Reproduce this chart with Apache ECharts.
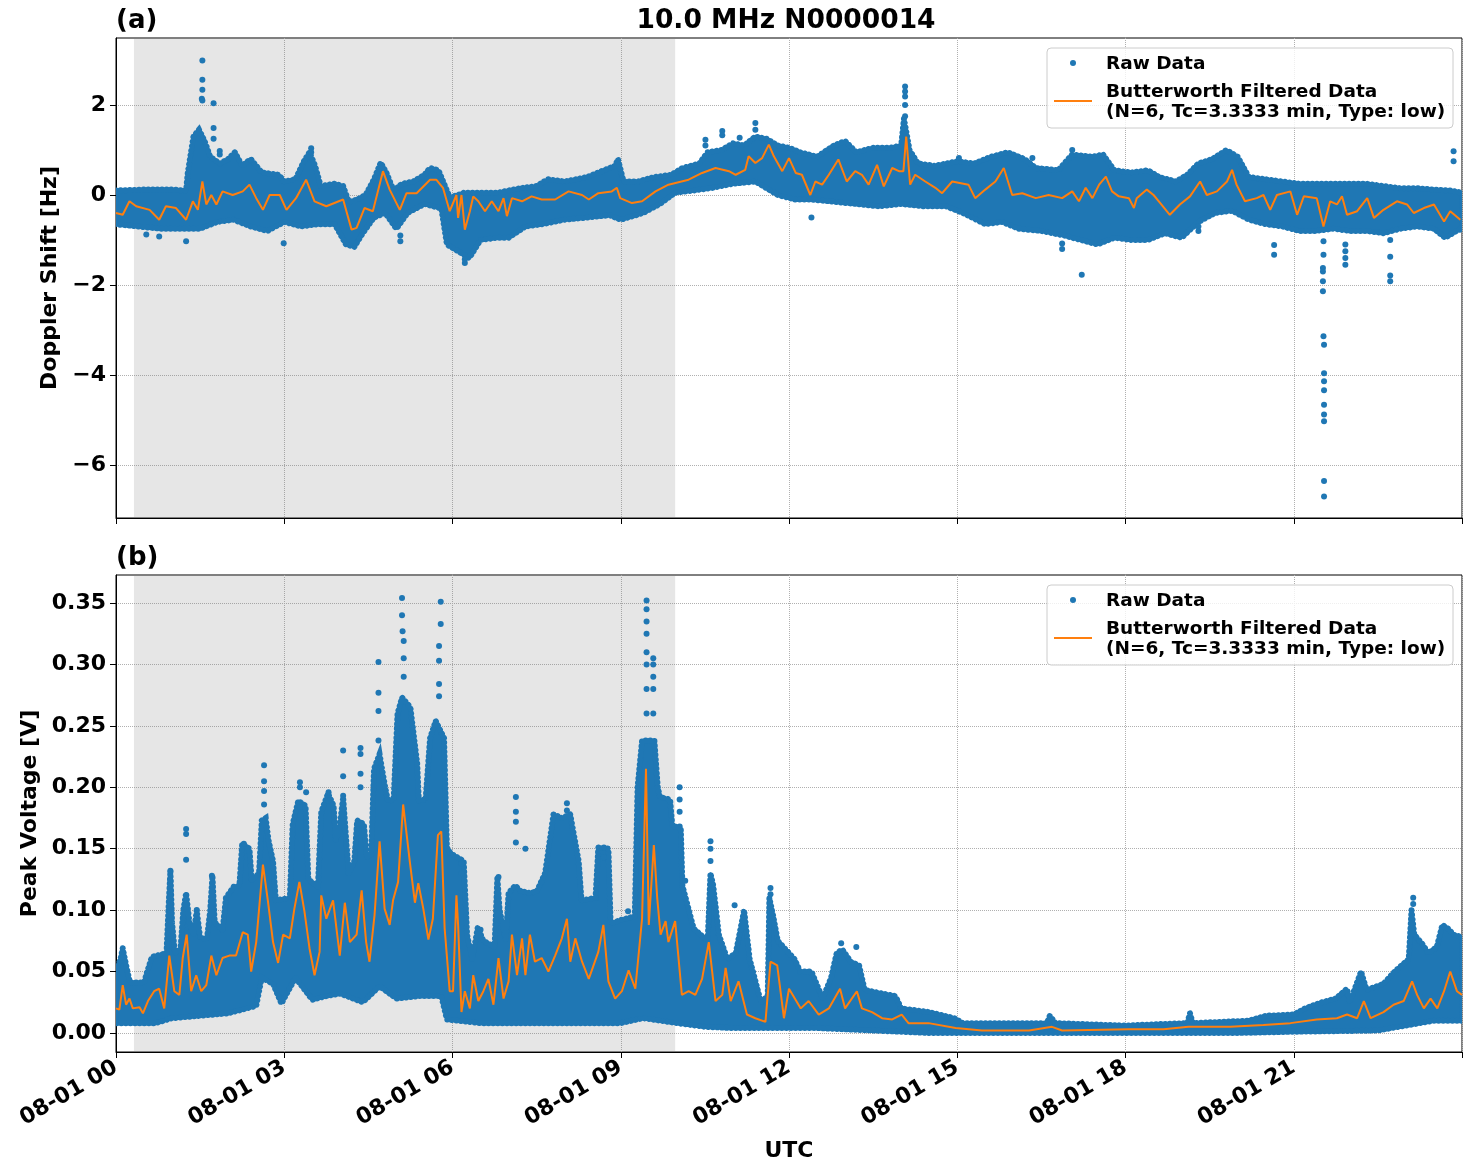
<!DOCTYPE html>
<html>
<head>
<meta charset="utf-8">
<title>10.0 MHz N0000014</title>
<script src="https://cdn.jsdelivr.net/npm/echarts@6/dist/echarts.min.js"></script>
<style>
  html, body { margin: 0; padding: 0; background: #fff; }
  #chart { width: 1472px; height: 1172px; }
</style>
</head>
<body>
<div id="chart"></div>
<script>
// tick positions (hours since 08-01 00 UTC)
const hourTicks = [0, 3, 6, 9, 12, 15, 18, 21]
const dopplerTicks = [2, 0, -2, -4, -6]
const voltageTicks = [0, 0.05, 0.1, 0.15, 0.2, 0.25, 0.3, 0.35]

// night shading
const shadeStart = 0.32
const shadeEnd = 9.97

// (a) raw doppler cloud: upper / lower edge [hour, Hz]
const dopplerUpper = [
  [0.0, 0.1], [0.5, 0.12], [1.0, 0.12], [1.25, 0.1], [1.28, 0.5], [1.38, 1.3], [1.48, 1.45], [1.58, 1.2],
  [1.68, 0.85], [1.85, 0.7], [2.0, 0.8], [2.12, 0.95], [2.25, 0.65], [2.4, 0.8], [2.6, 0.5], [2.9, 0.45],
  [3.0, 0.3], [3.2, 0.35], [3.35, 0.75], [3.45, 0.95], [3.55, 0.65], [3.65, 0.2], [3.9, 0.25], [4.05, 0.2],
  [4.15, -0.15], [4.3, -0.1], [4.45, 0.0], [4.6, 0.35], [4.72, 0.72], [4.82, 0.5], [4.95, 0.1], [5.1, 0.25],
  [5.3, 0.3], [5.5, 0.45], [5.6, 0.6], [5.75, 0.55], [5.85, 0.25], [5.95, -0.05], [6.1, 0.0], [6.2, 0.05],
  [6.4, 0.05], [6.6, 0.05], [6.8, 0.05], [7.0, 0.1], [7.2, 0.15], [7.5, 0.2], [7.7, 0.35], [8.0, 0.3],
  [8.2, 0.35], [8.4, 0.4], [8.6, 0.5], [8.9, 0.65], [8.95, 0.8], [9.05, 0.3], [9.3, 0.3], [9.6, 0.4],
  [9.9, 0.45], [10.1, 0.6], [10.4, 0.7], [10.55, 0.95], [10.8, 1.0], [11.0, 1.15], [11.2, 1.1], [11.4, 1.3],
  [11.6, 1.25], [11.8, 1.1], [12.0, 1.05], [12.2, 0.95], [12.5, 0.85], [12.8, 1.1], [13.0, 1.2], [13.2, 0.95],
  [13.5, 1.05], [13.8, 1.05], [14.0, 1.1], [14.05, 1.7], [14.15, 1.0], [14.3, 0.7], [14.6, 0.65], [15.0, 0.75],
  [15.3, 0.7], [15.6, 0.85], [15.9, 0.95], [16.2, 0.8], [16.4, 0.6], [16.8, 0.55], [17.05, 0.9], [17.4, 0.85],
  [17.6, 0.9], [17.8, 0.55], [18.1, 0.5], [18.4, 0.55], [18.6, 0.4], [18.9, 0.3], [19.1, 0.45], [19.3, 0.7],
  [19.55, 0.8], [19.8, 1.0], [20.0, 0.85], [20.2, 0.4], [20.5, 0.35], [20.8, 0.3], [21.1, 0.25], [21.4, 0.25],
  [21.7, 0.25], [22.0, 0.25], [22.3, 0.25], [22.6, 0.2], [22.9, 0.15], [23.2, 0.15], [23.5, 0.12], [23.8, 0.1],
  [24.0, 0.05]
]
const dopplerLower = [
  [0.0, -0.65], [0.4, -0.7], [0.8, -0.75], [1.2, -0.75], [1.5, -0.75], [1.8, -0.6], [2.1, -0.55], [2.4, -0.7],
  [2.7, -0.8], [3.0, -0.6], [3.3, -0.7], [3.6, -0.65], [3.9, -0.65], [4.1, -1.1], [4.25, -1.15], [4.4, -0.85],
  [4.6, -0.5], [4.8, -0.4], [5.0, -0.75], [5.2, -0.4], [5.5, -0.2], [5.8, -0.3], [5.9, -1.1], [6.1, -1.25],
  [6.3, -1.4], [6.5, -1.0], [6.8, -0.95], [7.0, -0.95], [7.3, -0.7], [7.6, -0.65], [8.0, -0.55], [8.4, -0.5],
  [8.8, -0.45], [9.0, -0.55], [9.4, -0.4], [9.7, -0.2], [9.97, 0.05], [10.3, 0.1], [10.6, 0.15], [11.0, 0.25],
  [11.4, 0.3], [11.8, 0.0], [12.1, -0.1], [12.4, -0.1], [12.8, -0.15], [13.2, -0.2], [13.6, -0.25], [14.0, -0.2],
  [14.4, -0.25], [14.8, -0.25], [15.1, -0.4], [15.5, -0.65], [15.8, -0.6], [16.1, -0.75], [16.5, -0.8], [16.9, -0.9],
  [17.2, -1.0], [17.5, -1.1], [17.8, -0.95], [18.1, -1.0], [18.4, -1.0], [18.7, -0.85], [19.0, -0.95], [19.3, -0.6],
  [19.6, -0.4], [19.9, -0.35], [20.2, -0.55], [20.5, -0.65], [20.8, -0.7], [21.1, -0.8], [21.4, -0.8], [21.7, -0.75],
  [22.0, -0.8], [22.3, -0.8], [22.6, -0.85], [22.9, -0.75], [23.2, -0.7], [23.5, -0.75], [23.7, -0.95], [23.9, -0.8],
  [24.0, -0.75]
]
// (a) isolated raw points
const dopplerOutliers = [
  [1.54, 2.99], [1.54, 2.56], [1.54, 2.34], [1.53, 2.14], [1.54, 2.1], [1.74, 2.04], [1.74, 1.49], [1.74, 1.25],
  [1.85, 0.98], [1.85, 0.9], [1.25, -1.03], [0.54, -0.88], [0.77, -0.92], [2.99, -1.07], [3.48, 1.04], [3.48, 0.95],
  [2.41, 0.78], [5.07, -1.03], [5.07, -0.9], [6.22, -1.51], [6.22, -1.43], [10.51, 1.23], [10.51, 1.1], [10.81, 1.42],
  [10.81, 1.33], [11.12, 1.27], [11.4, 1.6], [11.4, 1.45], [14.07, 2.41], [14.07, 2.3], [14.07, 2.19], [14.07, 2.0],
  [14.07, 1.75], [17.22, -1.77], [16.87, -1.2], [16.87, -1.08], [12.4, -0.5], [15.03, 0.82], [16.34, 0.82], [17.05, 1.0],
  [23.85, 0.97], [23.85, 0.75], [20.65, -1.11], [20.65, -1.33], [19.3, -0.7], [19.3, -0.8],
  [21.53, -1.03], [21.53, -1.33], [21.52, -1.62], [21.52, -1.7], [21.52, -1.92], [21.52, -2.14], [21.53, -3.14], [21.54, -3.33],
  [21.54, -3.96], [21.54, -4.14], [21.54, -4.34], [21.54, -4.66], [21.54, -4.88], [21.54, -5.03], [21.54, -6.36], [21.54, -6.7],
  [21.92, -1.1], [21.92, -1.25], [21.92, -1.4], [21.92, -1.55], [22.72, -1.0], [22.72, -1.37], [22.72, -1.79], [22.72, -1.92]
]
// (a) butterworth filtered doppler
const dopplerFiltered = [
  [0.0, -0.4], [0.12, -0.44], [0.24, -0.14], [0.36, -0.25], [0.6, -0.33], [0.77, -0.55], [0.89, -0.25], [1.07, -0.29],
  [1.25, -0.55], [1.37, -0.14], [1.46, -0.33], [1.54, 0.3], [1.61, -0.21], [1.7, 0.0], [1.79, -0.21], [1.9, 0.08],
  [2.08, 0.0], [2.26, 0.08], [2.38, 0.23], [2.5, -0.07], [2.62, -0.33], [2.74, 0.0], [2.92, 0.0], [3.04, -0.33],
  [3.21, -0.07], [3.39, 0.34], [3.54, -0.14], [3.75, -0.25], [4.05, -0.1], [4.2, -0.77], [4.29, -0.73], [4.43, -0.29],
  [4.58, -0.36], [4.76, 0.53], [4.88, 0.12], [5.06, -0.33], [5.18, 0.04], [5.36, 0.04], [5.6, 0.34], [5.71, 0.34],
  [5.83, 0.16], [5.95, -0.36], [6.07, 0.0], [6.1, -0.51], [6.16, 0.0], [6.22, -0.77], [6.31, -0.36], [6.37, -0.03],
  [6.46, -0.14], [6.58, -0.36], [6.7, -0.14], [6.82, -0.36], [6.91, -0.07], [6.97, -0.47], [7.06, -0.07], [7.24, -0.14],
  [7.41, -0.03], [7.59, -0.1], [7.83, -0.1], [8.07, 0.08], [8.31, 0.0], [8.43, -0.1], [8.6, 0.04], [8.84, 0.08],
  [8.93, 0.16], [8.99, -0.07], [9.2, -0.18], [9.38, -0.14], [9.62, 0.08], [9.85, 0.23], [10.21, 0.34], [10.45, 0.49],
  [10.69, 0.6], [10.93, 0.53], [11.05, 0.45], [11.22, 0.56], [11.28, 0.86], [11.4, 0.71], [11.52, 0.82], [11.64, 1.12],
  [11.73, 0.86], [11.88, 0.53], [12.0, 0.82], [12.12, 0.49], [12.23, 0.45], [12.38, 0.0], [12.47, 0.3], [12.59, 0.23],
  [12.71, 0.45], [12.88, 0.79], [13.03, 0.3], [13.18, 0.53], [13.3, 0.45], [13.42, 0.23], [13.57, 0.67], [13.69, 0.19],
  [13.84, 0.6], [13.96, 0.53], [14.04, 0.53], [14.09, 1.3], [14.16, 0.23], [14.25, 0.45], [14.43, 0.3], [14.61, 0.16],
  [14.73, 0.04], [14.91, 0.3], [15.2, 0.23], [15.32, -0.07], [15.5, 0.12], [15.68, 0.3], [15.83, 0.6], [15.98, 0.0],
  [16.16, 0.04], [16.4, -0.07], [16.63, 0.0], [16.87, -0.07], [17.05, 0.08], [17.17, -0.14], [17.29, 0.16], [17.41, -0.07],
  [17.53, 0.23], [17.65, 0.41], [17.76, 0.08], [17.88, -0.03], [18.06, -0.07], [18.15, -0.29], [18.2, -0.07], [18.38, 0.12],
  [18.5, 0.0], [18.62, -0.18], [18.79, -0.44], [18.97, -0.21], [19.15, -0.03], [19.33, 0.3], [19.45, 0.0], [19.63, 0.08],
  [19.81, 0.3], [19.9, 0.56], [19.98, 0.23], [20.13, -0.14], [20.34, -0.07], [20.46, 0.0], [20.58, -0.33], [20.7, 0.0],
  [20.94, 0.08], [21.06, -0.44], [21.18, -0.03], [21.41, -0.07], [21.53, -0.7], [21.65, -0.14], [21.77, -0.21], [21.86, -0.03],
  [21.95, -0.44], [22.13, -0.36], [22.31, -0.07], [22.43, -0.51], [22.6, -0.33], [22.84, -0.14], [23.02, -0.21], [23.14, -0.4],
  [23.32, -0.29], [23.5, -0.21], [23.68, -0.59], [23.79, -0.36], [23.97, -0.55]
]

// (b) raw peak voltage cloud: upper / lower edge [hour, V]
const voltageUpper = [
  [0.0, 0.051], [0.08, 0.06], [0.12, 0.069], [0.16, 0.06], [0.2, 0.051], [0.25, 0.041], [0.5, 0.041], [0.55, 0.049],
  [0.64, 0.062], [0.9, 0.065], [0.94, 0.105], [0.97, 0.132], [1.0, 0.09], [1.05, 0.065], [1.15, 0.068], [1.2, 0.1],
  [1.25, 0.114], [1.31, 0.09], [1.38, 0.08], [1.44, 0.1], [1.5, 0.078], [1.62, 0.076], [1.68, 0.1], [1.72, 0.128],
  [1.76, 0.09], [1.9, 0.084], [1.96, 0.11], [2.1, 0.119], [2.2, 0.12], [2.25, 0.154], [2.38, 0.15], [2.42, 0.124],
  [2.55, 0.13], [2.6, 0.173], [2.67, 0.175], [2.72, 0.157], [2.8, 0.14], [2.85, 0.108], [3.1, 0.11], [3.15, 0.17],
  [3.25, 0.189], [3.38, 0.185], [3.43, 0.125], [3.6, 0.119], [3.66, 0.18], [3.78, 0.195], [3.88, 0.185], [3.92, 0.157],
  [3.98, 0.165], [4.05, 0.192], [4.1, 0.16], [4.15, 0.13], [4.25, 0.14], [4.3, 0.173], [4.42, 0.17], [4.47, 0.143],
  [4.55, 0.145], [4.6, 0.215], [4.7, 0.227], [4.8, 0.2], [4.85, 0.189], [4.95, 0.19], [5.02, 0.26], [5.1, 0.273],
  [5.25, 0.265], [5.37, 0.22], [5.4, 0.189], [5.52, 0.19], [5.6, 0.24], [5.7, 0.254], [5.85, 0.24], [5.9, 0.151],
  [5.97, 0.146], [6.2, 0.14], [6.26, 0.08], [6.35, 0.06], [6.45, 0.086], [6.55, 0.075], [6.75, 0.07], [6.8, 0.127],
  [6.84, 0.1], [6.95, 0.076], [7.0, 0.114], [7.12, 0.12], [7.2, 0.116], [7.35, 0.114], [7.5, 0.115], [7.65, 0.13],
  [7.8, 0.178], [7.95, 0.175], [8.1, 0.178], [8.25, 0.14], [8.3, 0.108], [8.55, 0.11], [8.6, 0.151], [8.78, 0.15],
  [8.82, 0.089], [9.0, 0.092], [9.25, 0.095], [9.3, 0.2], [9.38, 0.238], [9.6, 0.238], [9.66, 0.2], [9.7, 0.192],
  [9.88, 0.19], [9.92, 0.168], [10.07, 0.168], [10.1, 0.12], [10.3, 0.085], [10.55, 0.075], [10.6, 0.13], [10.65, 0.12],
  [10.75, 0.08], [10.9, 0.06], [11.05, 0.065], [11.2, 0.1], [11.3, 0.06], [11.5, 0.025], [11.62, 0.03], [11.65, 0.11],
  [11.72, 0.095], [11.8, 0.075], [12.0, 0.065], [12.1, 0.06], [12.2, 0.05], [12.4, 0.05], [12.6, 0.028], [12.75, 0.045],
  [12.85, 0.065], [12.95, 0.068], [13.1, 0.058], [13.25, 0.055], [13.35, 0.035], [13.9, 0.03], [14.0, 0.02], [14.5, 0.017],
  [14.95, 0.012], [15.1, 0.008], [16.6, 0.008], [16.65, 0.014], [16.75, 0.008], [18.0, 0.006], [18.5, 0.007], [19.1, 0.008],
  [19.15, 0.016], [19.2, 0.008], [20.2, 0.01], [20.5, 0.014], [21.0, 0.015], [21.2, 0.02], [21.5, 0.025], [21.75, 0.028],
  [21.95, 0.036], [22.0, 0.025], [22.2, 0.05], [22.3, 0.035], [22.6, 0.04], [22.8, 0.05], [23.05, 0.06], [23.1, 0.1],
  [23.15, 0.08], [23.3, 0.072], [23.4, 0.065], [23.55, 0.07], [23.65, 0.088], [23.75, 0.085], [23.85, 0.08], [24.0, 0.078]
]
const voltageLower = [
  [0.0, 0.008], [0.7, 0.008], [1.0, 0.012], [2.0, 0.016], [2.5, 0.022], [2.6, 0.045], [2.8, 0.04], [2.95, 0.024],
  [3.2, 0.045], [3.5, 0.027], [3.75, 0.03], [4.0, 0.032], [4.4, 0.025], [4.7, 0.038], [5.0, 0.028], [5.4, 0.03],
  [5.8, 0.03], [5.9, 0.011], [6.5, 0.008], [8.0, 0.008], [9.0, 0.008], [9.4, 0.012], [10.0, 0.008], [10.5, 0.005],
  [11.0, 0.004], [11.6, 0.004], [12.0, 0.004], [12.5, 0.004], [13.5, 0.002], [14.5, 0.0], [20.0, 0.0], [21.0, 0.001],
  [22.5, 0.002], [23.0, 0.006], [23.5, 0.01], [24.0, 0.01]
]
// (b) isolated raw points
const voltageOutliers = [
  [0.97, 0.132], [0.97, 0.124], [0.97, 0.115], [1.25, 0.166], [1.25, 0.162], [1.25, 0.141], [1.44, 0.1], [1.71, 0.128],
  [2.28, 0.154], [2.64, 0.218], [2.64, 0.205], [2.64, 0.197], [2.64, 0.186], [3.28, 0.204], [3.28, 0.2], [3.28, 0.184],
  [3.39, 0.196], [3.79, 0.196], [3.79, 0.189], [4.05, 0.23], [4.05, 0.209], [4.05, 0.193], [4.36, 0.232], [4.36, 0.227],
  [4.36, 0.211], [4.36, 0.2], [4.68, 0.302], [4.68, 0.277], [4.68, 0.262], [4.68, 0.238], [5.1, 0.354], [5.1, 0.34],
  [5.11, 0.327], [5.13, 0.319], [5.13, 0.305], [5.13, 0.29], [5.79, 0.351], [5.79, 0.333], [5.76, 0.315], [5.76, 0.303],
  [5.76, 0.284], [5.76, 0.274], [6.16, 0.138], [6.16, 0.13], [6.5, 0.084], [6.82, 0.127], [7.13, 0.192], [7.13, 0.18],
  [7.13, 0.172], [7.13, 0.155], [7.3, 0.15], [8.04, 0.187], [8.04, 0.181], [8.7, 0.151], [8.7, 0.143], [9.13, 0.099],
  [9.46, 0.352], [9.46, 0.345], [9.46, 0.335], [9.46, 0.325], [9.46, 0.31], [9.46, 0.3], [9.46, 0.28], [9.46, 0.26],
  [9.58, 0.305], [9.58, 0.3], [9.58, 0.29], [9.58, 0.28], [9.58, 0.26], [10.05, 0.2], [10.05, 0.19], [10.05, 0.18],
  [10.15, 0.124], [10.6, 0.156], [10.6, 0.15], [10.6, 0.14], [11.03, 0.104], [11.67, 0.118], [11.67, 0.113],
  [12.93, 0.073], [13.2, 0.07], [23.13, 0.11], [23.13, 0.105]
]
// (b) butterworth filtered peak voltage
const voltageFiltered = [
  [0.0, 0.02], [0.06, 0.019], [0.12, 0.039], [0.18, 0.023], [0.24, 0.028], [0.3, 0.02], [0.42, 0.021], [0.48, 0.016],
  [0.57, 0.026], [0.68, 0.034], [0.77, 0.036], [0.86, 0.02], [0.95, 0.063], [1.04, 0.034], [1.13, 0.031], [1.19, 0.061],
  [1.26, 0.08], [1.34, 0.034], [1.43, 0.047], [1.52, 0.034], [1.61, 0.039], [1.7, 0.063], [1.79, 0.047], [1.9, 0.061],
  [2.02, 0.063], [2.14, 0.063], [2.26, 0.082], [2.35, 0.08], [2.41, 0.05], [2.5, 0.074], [2.62, 0.137], [2.71, 0.107],
  [2.8, 0.074], [2.89, 0.057], [2.98, 0.08], [3.1, 0.077], [3.18, 0.101], [3.27, 0.123], [3.36, 0.099], [3.45, 0.069],
  [3.54, 0.047], [3.63, 0.066], [3.66, 0.112], [3.75, 0.093], [3.87, 0.108], [3.99, 0.063], [4.08, 0.106], [4.17, 0.074],
  [4.29, 0.08], [4.38, 0.116], [4.46, 0.074], [4.52, 0.058], [4.61, 0.096], [4.7, 0.156], [4.79, 0.101], [4.88, 0.088],
  [4.94, 0.108], [5.03, 0.123], [5.12, 0.186], [5.24, 0.139], [5.33, 0.106], [5.39, 0.122], [5.48, 0.101], [5.57, 0.076],
  [5.65, 0.093], [5.74, 0.161], [5.8, 0.164], [5.86, 0.085], [5.95, 0.034], [6.01, 0.034], [6.07, 0.112], [6.1, 0.088],
  [6.16, 0.017], [6.22, 0.034], [6.31, 0.02], [6.37, 0.047], [6.46, 0.026], [6.55, 0.034], [6.64, 0.044], [6.73, 0.023],
  [6.82, 0.061], [6.91, 0.028], [7.0, 0.042], [7.06, 0.08], [7.15, 0.047], [7.24, 0.077], [7.3, 0.047], [7.38, 0.08],
  [7.47, 0.058], [7.59, 0.061], [7.71, 0.05], [7.83, 0.063], [7.95, 0.077], [8.04, 0.093], [8.1, 0.058], [8.19, 0.077],
  [8.31, 0.058], [8.43, 0.044], [8.6, 0.066], [8.69, 0.088], [8.78, 0.042], [8.9, 0.028], [9.02, 0.034], [9.14, 0.051],
  [9.26, 0.036], [9.38, 0.093], [9.45, 0.215], [9.5, 0.088], [9.59, 0.153], [9.65, 0.11], [9.71, 0.08], [9.8, 0.091],
  [9.85, 0.074], [9.97, 0.091], [10.09, 0.031], [10.21, 0.034], [10.33, 0.031], [10.45, 0.044], [10.57, 0.074], [10.69, 0.026],
  [10.81, 0.031], [10.87, 0.053], [10.96, 0.026], [11.1, 0.042], [11.25, 0.015], [11.4, 0.012], [11.58, 0.009], [11.67, 0.058],
  [11.79, 0.055], [11.91, 0.012], [12.0, 0.036], [12.21, 0.02], [12.35, 0.026], [12.53, 0.015], [12.71, 0.02], [12.91, 0.036],
  [13.0, 0.02], [13.21, 0.034], [13.3, 0.02], [13.48, 0.017], [13.66, 0.012], [13.84, 0.011], [14.01, 0.015], [14.13, 0.008],
  [14.49, 0.008], [14.97, 0.004], [15.44, 0.002], [16.28, 0.002], [16.69, 0.005], [16.87, 0.002], [18.06, 0.003], [18.68, 0.003],
  [19.12, 0.005], [19.87, 0.005], [20.46, 0.0065], [20.94, 0.008], [21.41, 0.011], [21.77, 0.012], [21.95, 0.015], [22.13, 0.012],
  [22.25, 0.026], [22.37, 0.012], [22.6, 0.017], [22.78, 0.023], [22.96, 0.026], [23.11, 0.042], [23.2, 0.031], [23.32, 0.02],
  [23.44, 0.028], [23.56, 0.02], [23.68, 0.034], [23.79, 0.05], [23.91, 0.034], [24.0, 0.031]
]

const FONT = 'DejaVu Sans'
const BLUE = '#1f77b4'
const ORANGE = '#ff7f0e'
const GRID_LINE = { color: '#b0b0b0', type: 'dotted', width: 1 }
const LABEL_NAME = 'Butterworth Filtered Data\n(N=6, Tc=3.3333 min, Type: low)'

const chart = echarts.init(document.getElementById('chart'), null, { renderer: 'canvas' })

// 原始数据点云：上下包络围成的多边形，边缘用圆点描边
const cloudSeries = (idx, upper, lower) => ({
  name: 'Raw Data',
  type: 'custom',
  xAxisIndex: idx,
  yAxisIndex: idx,
  z: 2,
  silent: true,
  clip: true,
  data: [upper[0]],
  renderItem: (params, api) => {
    const pts = upper.concat(lower.slice().reverse()).map((p) => api.coord(p))
    return {
      type: 'group',
      children: [
        {
          type: 'polygon',
          shape: { points: pts },
          style: { fill: BLUE, stroke: BLUE, lineWidth: 2, lineJoin: 'round' },
        },
        {
          type: 'polygon',
          shape: { points: pts },
          style: { fill: null, stroke: BLUE, lineWidth: 6, lineCap: 'round', lineDash: [0.1, 4.5] },
        },
      ],
    }
  },
})

const shadeSeries = (idx) => ({
  type: 'line',
  xAxisIndex: idx,
  yAxisIndex: idx,
  z: 1,
  silent: true,
  data: [[0, null]],
  showSymbol: false,
  lineStyle: { opacity: 0 },
  markArea: {
    silent: true,
    itemStyle: { color: 'rgba(128,128,128,0.2)' },
    data: [[{ xAxis: shadeStart }, { xAxis: shadeEnd }]],
  },
})

const outlierSeries = (idx, data) => ({
  name: 'Raw Data',
  type: 'scatter',
  xAxisIndex: idx,
  yAxisIndex: idx,
  z: 3,
  silent: true,
  symbolSize: 6,
  itemStyle: { color: BLUE, opacity: 1 },
  data,
})

const filteredSeries = (idx, data) => ({
  name: LABEL_NAME,
  type: 'line',
  xAxisIndex: idx,
  yAxisIndex: idx,
  z: 4,
  silent: true,
  showSymbol: false,
  lineStyle: { color: ORANGE, width: 2 },
  data,
})

const tickFont = { fontFamily: FONT, fontWeight: 'bold', fontSize: 22, color: '#000' }

const xAxisBase = (idx, showLabel) => ({
  type: 'value',
  gridIndex: idx,
  min: 0,
  max: 24,
  interval: 3,
  axisLine: { show: true, onZero: false, lineStyle: { color: '#000', width: 1 } },
  axisTick: { show: true, length: 6, lineStyle: { color: '#000' } },
  axisLabel: {
    show: showLabel,
    rotate: 30,
    margin: 14,
    ...tickFont,
    formatter: (v) => (hourTicks.includes(v) ? '08-01 ' + String(v).padStart(2, '0') : ''),
  },
  splitLine: { show: true, lineStyle: GRID_LINE },
})

const yAxisBase = (idx, min, max, ticks, name, gap, fmt) => ({
  type: 'value',
  gridIndex: idx,
  min,
  max,
  name,
  nameLocation: 'middle',
  nameGap: gap,
  nameTextStyle: { fontFamily: FONT, fontWeight: 'bold', fontSize: 22, color: '#000' },
  axisLine: { show: true, onZero: false, lineStyle: { color: '#000', width: 1 } },
  axisTick: { show: true, length: 6, customValues: ticks, lineStyle: { color: '#000' } },
  axisLabel: { customValues: ticks, margin: 10, ...tickFont, formatter: fmt },
  splitLine: { show: true, lineStyle: GRID_LINE },
})

// 图例（两个面板各一份）
const legendFont = 'bold 18.5px "DejaVu Sans"'
const legendBox = (top) => [
  {
    type: 'rect',
    shape: { x: 1047, y: top, width: 406, height: 80, r: 4 },
    style: { fill: 'rgba(255,255,255,0.8)', stroke: '#cccccc', lineWidth: 1 },
    z: 10,
  },
  { type: 'circle', shape: { cx: 1073, cy: top + 15, r: 3 }, style: { fill: BLUE }, z: 11 },
  {
    type: 'line',
    shape: { x1: 1054, y1: top + 53, x2: 1092, y2: top + 53 },
    style: { stroke: ORANGE, lineWidth: 2 },
    z: 11,
  },
  {
    type: 'text',
    x: 1106,
    y: top + 16,
    style: { text: 'Raw Data', font: legendFont, fill: '#000', verticalAlign: 'middle' },
    z: 11,
  },
  {
    type: 'text',
    x: 1106,
    y: top + 44,
    style: { text: 'Butterworth Filtered Data', font: legendFont, fill: '#000', verticalAlign: 'middle' },
    z: 11,
  },
  {
    type: 'text',
    x: 1106,
    y: top + 64,
    style: { text: '(N=6, Tc=3.3333 min, Type: low)', font: legendFont, fill: '#000', verticalAlign: 'middle' },
    z: 11,
  },
]

const option = {
  backgroundColor: '#fff',
  animation: false,
  textStyle: { fontFamily: FONT },
  title: [
    {
      text: '10.0 MHz N0000014',
      left: 786,
      top: 8,
      padding: 0,
      textAlign: 'center',
      textStyle: { fontFamily: FONT, fontWeight: 'bold', fontSize: 26.5, color: '#000' },
    },
    { text: '(a)', left: 116, top: 8, padding: 0, textStyle: { fontFamily: FONT, fontWeight: 'bold', fontSize: 26, color: '#000' } },
    { text: '(b)', left: 116, top: 545, padding: 0, textStyle: { fontFamily: FONT, fontWeight: 'bold', fontSize: 26, color: '#000' } },
  ],
  grid: [
    { left: 116, top: 38, width: 1346, height: 480, show: true, borderColor: '#000', borderWidth: 1, backgroundColor: '#fff', outerBoundsMode: 'none' },
    { left: 116, top: 575, width: 1346, height: 477, show: true, borderColor: '#000', borderWidth: 1, backgroundColor: '#fff', outerBoundsMode: 'none' },
  ],
  xAxis: [
    xAxisBase(0, false),
    {
      ...xAxisBase(1, true),
      name: 'UTC',
      nameLocation: 'middle',
      nameGap: 88,
      nameTextStyle: { fontFamily: FONT, fontWeight: 'bold', fontSize: 22, color: '#000' },
    },
  ],
  yAxis: [
    yAxisBase(0, -7.18, 3.49, dopplerTicks, 'Doppler Shift [Hz]', 50, (v) => (v < 0 ? '\u2212' + Math.abs(v) : String(v))),
    yAxisBase(1, -0.0155, 0.3728, voltageTicks, 'Peak Voltage [V]', 72, (v) => v.toFixed(2)),
  ],
  series: [
    shadeSeries(0),
    cloudSeries(0, dopplerUpper, dopplerLower),
    outlierSeries(0, dopplerOutliers),
    filteredSeries(0, dopplerFiltered),
    shadeSeries(1),
    cloudSeries(1, voltageUpper, voltageLower),
    outlierSeries(1, voltageOutliers),
    filteredSeries(1, voltageFiltered),
  ],
  graphic: [...legendBox(48), ...legendBox(585)],
}

chart.setOption(option)
</script>
</body>
</html>
